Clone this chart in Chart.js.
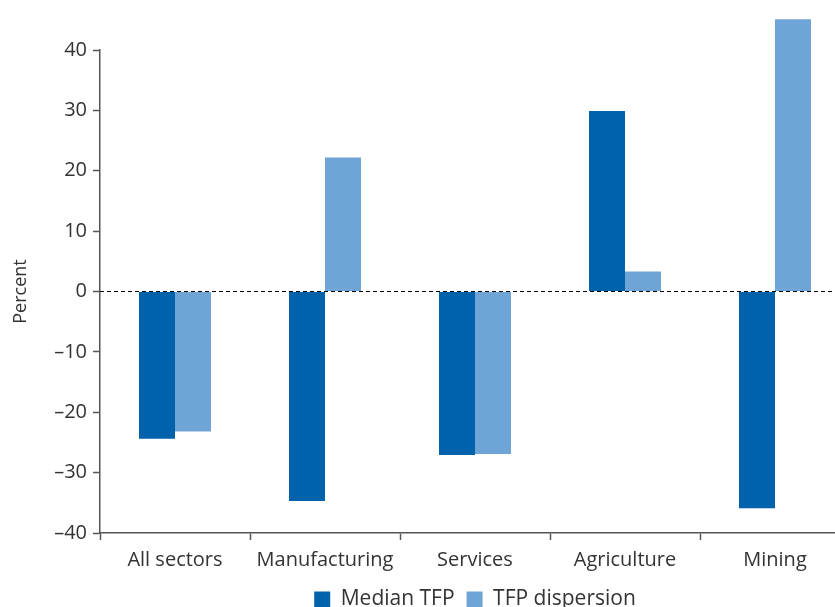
<!DOCTYPE html>
<html>
<head>
<meta charset="utf-8">
<script src="https://cdn.jsdelivr.net/npm/chart.js@4"></script>
<style>
  html, body { margin: 0; padding: 0; background: #fff; overflow: hidden; }
  #wrap { width: 850px; height: 620px; }
</style>
</head>
<body>
<div id="wrap"><canvas id="tfpChart" width="850" height="620"></canvas></div>
<script>
// --- DATA ---
const sectors = ['All sectors', 'Manufacturing', 'Services', 'Agriculture', 'Mining'];
const medianTfp = [-24.4, -34.7, -27.1, 29.9, -35.9];
const tfpDispersion = [-23.2, 22.2, -26.9, 3.3, 45.1];
const yTicks = [-40, -30, -20, -10, 0, 10, 20, 30, 40];

const darkBlue = '#0062ab';
const lightBlue = '#6fa5d6';
const axisGrey = '#555555';
const textGrey = '#333333';

Chart.defaults.font.family = '"Open Sans", "Noto Sans", sans-serif';
Chart.defaults.color = textGrey;

// garis nol putus-putus
const zeroLine = {
    id: 'zeroLine',
    beforeDatasetsDraw(chart) {
        const y = chart.scales.y.getPixelForValue(0);
        const area = chart.chartArea;
        const c = chart.ctx;
        c.save();
        c.strokeStyle = '#000000';
        c.lineWidth = 1;
        c.setLineDash([4, 3]);
        c.beginPath();
        c.moveTo(area.left, y);
        c.lineTo(area.right, y);
        c.stroke();
        c.restore();
    }
};

const ctx = document.getElementById('tfpChart').getContext('2d');
const tfpChart = new Chart(ctx, {
    type: 'bar',
    data: {
        labels: sectors,
        datasets: [
            {
                label: 'Median TFP',
                data: medianTfp,
                backgroundColor: darkBlue,
                categoryPercentage: 0.48,
                barPercentage: 1.0,
                clip: false
            },
            {
                label: 'TFP dispersion',
                data: tfpDispersion,
                backgroundColor: lightBlue,
                categoryPercentage: 0.48,
                barPercentage: 1.0,
                clip: false
            }
        ]
    },
    options: {
        responsive: false,
        animation: false,
        layout: { padding: { top: 50, left: 0, right: 0, bottom: 0 } },
        scales: {
            x: {
                offset: true,
                border: { display: true, color: axisGrey, width: 1.5 },
                grid: {
                    offset: true,
                    drawOnChartArea: false,
                    drawTicks: true,
                    tickLength: 7,
                    tickColor: axisGrey,
                    tickWidth: 1.5
                },
                ticks: { font: { size: 20 }, color: textGrey, padding: 8 },
                afterFit: (scale) => { scale.height = 44; }
            },
            y: {
                min: -40,
                max: 40,
                afterBuildTicks: (scale) => {
                    scale.ticks = yTicks.map(v => ({ value: v }));
                },
                border: { display: true, color: axisGrey, width: 1.5 },
                grid: {
                    drawOnChartArea: false,
                    drawTicks: true,
                    tickLength: 7,
                    tickColor: axisGrey,
                    tickWidth: 1.5
                },
                ticks: {
                    font: { size: 20 },
                    color: textGrey,
                    padding: 6,
                    callback: (v) => v < 0 ? '\u2013' + Math.abs(v) : String(v)
                },
                title: {
                    display: true,
                    text: 'Percent',
                    font: { size: 18 },
                    color: textGrey,
                    padding: { top: 10, bottom: 0 }
                },
                afterFit: (scale) => { scale.width = 100; }
            }
        },
        plugins: {
            legend: {
                position: 'bottom',
                fullSize: false,
                labels: {
                    boxWidth: 16,
                    boxHeight: 16,
                    padding: 12,
                    font: { size: 21 },
                    color: textGrey
                }
            },
            tooltip: { enabled: false }
        }
    },
    plugins: [zeroLine]
});
</script>
</body>
</html>
